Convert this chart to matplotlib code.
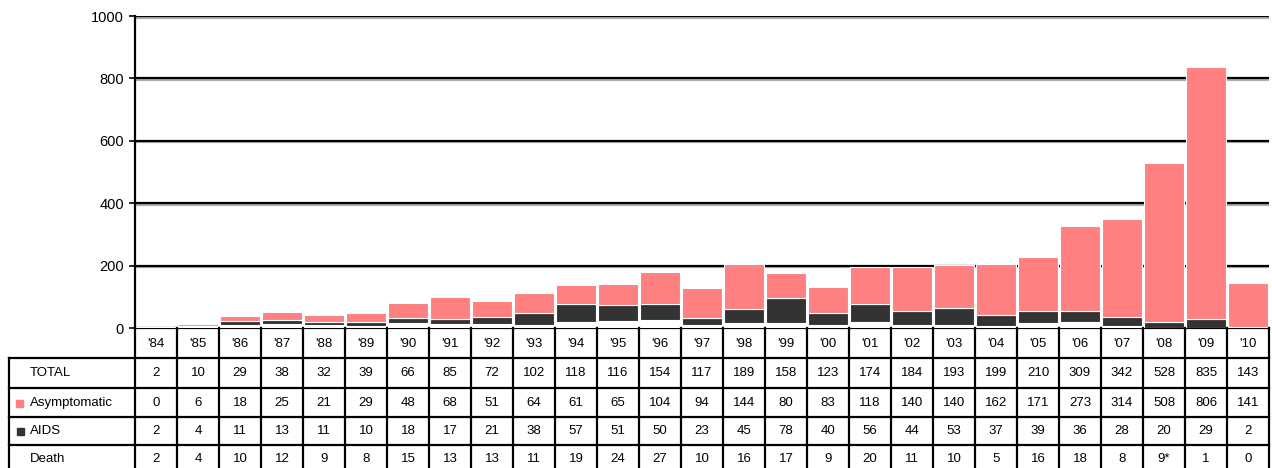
import matplotlib
matplotlib.use("Agg")
import matplotlib.pyplot as plt
import matplotlib.patheffects as pe
from matplotlib.lines import Line2D
from matplotlib.patches import Rectangle
import matplotlib.transforms as mtransforms

plt.rcParams['font.family'] = ['Liberation Sans', 'DejaVu Sans']

years = ["'84", "'85", "'86", "'87", "'88", "'89", "'90", "'91", "'92", "'93", "'94", "'95", "'96",
         "'97", "'98", "'99", "'00", "'01", "'02", "'03", "'04", "'05", "'06", "'07", "'08", "'09", "'10"]
total = [2, 10, 29, 38, 32, 39, 66, 85, 72, 102, 118, 116, 154, 117, 189, 158, 123, 174, 184, 193,
         199, 210, 309, 342, 528, 835, 143]
asym = [0, 6, 18, 25, 21, 29, 48, 68, 51, 64, 61, 65, 104, 94, 144, 80, 83, 118, 140, 140, 162,
        171, 273, 314, 508, 806, 141]
aids = [2, 4, 11, 13, 11, 10, 18, 17, 21, 38, 57, 51, 50, 23, 45, 78, 40, 56, 44, 53, 37, 39, 36,
        28, 20, 29, 2]
death = [2, 4, 10, 12, 9, 8, 15, 13, 13, 11, 19, 24, 27, 10, 16, 17, 9, 20, 11, 10, 5, 16, 18, 8,
         9, 1, 0]
death_labels = [str(v) for v in death]
death_labels[24] = "9*"
# '08 death (9*) is not stacked in the bars
death_bar = list(death)
death_bar[24] = 0

pink = '#FF8080'
dark = '#333333'

W, H = 1272, 468
fig = plt.figure(figsize=(W / 100, H / 100), dpi=100)
ax = fig.add_axes([135 / W, 1 - 328 / H, (1269 - 135) / W, (328 - 16) / H])

x = list(range(len(years)))
base2 = [d + a for d, a in zip(death_bar, aids)]
ax.bar(x, death_bar, width=0.96, color='white', edgecolor='white', linewidth=0.8, zorder=3)
ax.bar(x, aids, bottom=death_bar, width=0.96, color=dark, edgecolor='white', linewidth=0.8, zorder=3)
ax.bar(x, asym, bottom=base2, width=0.96, color=pink, edgecolor='white', linewidth=0.8, zorder=3)

ax.set_xlim(-0.5, len(years) - 0.5)
ax.set_ylim(0, 1000)
ax.set_yticks([0, 200, 400, 600, 800, 1000])
ax.set_xticks([])
shadow = [pe.SimpleLineShadow(offset=(0, -1.2), shadow_color='#999999', alpha=0.8), pe.Normal()]
for yv in [200, 400, 600, 800, 1000]:
    ax.axhline(yv, color='black', lw=1.6, zorder=1, path_effects=shadow)
for s in ['top', 'right']:
    ax.spines[s].set_visible(False)
ax.spines['left'].set_linewidth(1.6)
ax.spines['bottom'].set_linewidth(1.6)
ax.tick_params(axis='y', length=4, width=1.2, pad=4, labelsize=10.5)

# data table under the chart
def fy(py):
    return 1 - py / H

blend = mtransforms.blended_transform_factory(ax.transData, fig.transFigure)
x_right = ax.get_position().x1
x_left = 9 / W
lw = 1.6

row_lines = [358, 388, 417, 445]
for py in row_lines:
    fig.add_artist(Line2D([x_left, x_right], [fy(py), fy(py)], color='black', lw=lw))
for i in range(len(years) + 1):
    fig.add_artist(Line2D([i - 0.5, i - 0.5], [fy(328), fy(H + 5)], color='black', lw=lw,
                          transform=blend))
fig.add_artist(Line2D([x_left, x_left], [fy(358), fy(H + 5)], color='black', lw=lw))

fs = 9.5
for i, yr in enumerate(years):
    fig.text(i, fy(344), yr, transform=blend, ha='center', va='center', fontsize=fs)

rows = [("TOTAL", [str(v) for v in total], 373),
        ("Asymptomatic", [str(v) for v in asym], 403),
        ("AIDS", [str(v) for v in aids], 431),
        ("Death", death_labels, 459)]
for name, vals, py in rows:
    fig.text(30 / W, fy(py), name, ha='left', va='center', fontsize=fs)
    for i, v in enumerate(vals):
        fig.text(i, fy(py), v, transform=blend, ha='center', va='center', fontsize=fs)

fig.add_artist(Rectangle((16 / W, fy(407)), 7 / W, 7 / H, color=pink, transform=fig.transFigure))
fig.add_artist(Rectangle((17 / W, fy(435)), 7 / W, 7 / H, color=dark, transform=fig.transFigure))

fig.savefig('out.png', dpi=100)
